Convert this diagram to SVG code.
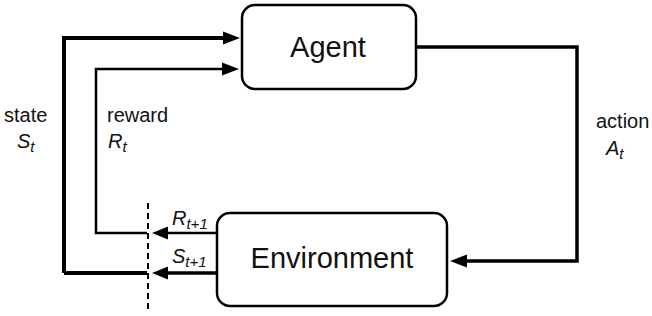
<svg xmlns="http://www.w3.org/2000/svg" width="652" height="316" viewBox="0 0 652 316">
<style>
.box{fill:#fff;stroke:#000;stroke-width:2.5}
.lbl{font-family:"Liberation Sans",Arial,sans-serif;fill:#111}
.node{font-size:29px}
.small{font-size:20px}
.it{font-style:italic}
.sub{font-size:15px}
.ln{fill:none;stroke:#000;stroke-linejoin:miter}
.head{fill:#000}
</style>
<rect width="652" height="316" fill="#fff"/>
<g id="connectors">
  <path class="ln" d="M64,273 V38 H224" stroke-width="4"/>
  <polygon class="head" points="240,38 223,31.5 223,44.5"/>
  <path class="ln" d="M147,233 H96 V69 H224" stroke-width="2.5"/>
  <polygon class="head" points="239,69 222,62.5 222,75.5"/>
  <path class="ln" d="M416,47 H577 V261 H466" stroke-width="3.5"/>
  <polygon class="head" points="450,261 467,254.5 467,267.5"/>
  <path class="ln" d="M217,233 H166" stroke-width="2.5"/>
  <polygon class="head" points="152,233 168,226.5 168,239.5"/>
  <path class="ln" d="M217,273 H166" stroke-width="3.5"/>
  <path class="ln" d="M64,273 H147" stroke-width="4"/>
  <polygon class="head" points="152,273 168,266.5 168,279.5"/>
  <line x1="148" y1="203" x2="148" y2="310" stroke="#000" stroke-width="2" stroke-dasharray="6,4"/>
</g>
<g id="agent">
  <rect class="box" x="242" y="5" width="174" height="84" rx="13"/>
  <text class="lbl node" x="328" y="57" text-anchor="middle">Agent</text>
</g>
<g id="environment">
  <rect class="box" x="217" y="213" width="230" height="93" rx="13"/>
  <text class="lbl node" x="332" y="268" text-anchor="middle">Environment</text>
</g>
<g id="labels">
  <text class="lbl small" x="4" y="122">state</text>
  <text class="lbl small it" x="17" y="148">S<tspan class="sub" dy="4">t</tspan></text>
  <text class="lbl small" x="107" y="122">reward</text>
  <text class="lbl small it" x="108" y="148">R<tspan class="sub" dy="4">t</tspan></text>
  <text class="lbl small" x="596" y="128">action</text>
  <text class="lbl small it" x="606" y="155">A<tspan class="sub" dy="4">t</tspan></text>
  <text class="lbl small it" x="172" y="225">R<tspan class="sub" dy="4">t+1</tspan></text>
  <text class="lbl small it" x="172" y="263">S<tspan class="sub" dy="4">t+1</tspan></text>
</g>
</svg>
